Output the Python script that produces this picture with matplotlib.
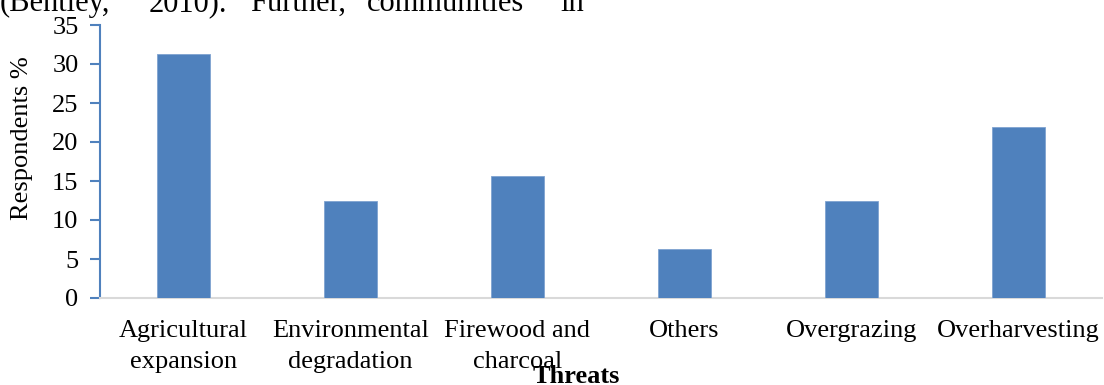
import numpy as np
import matplotlib
matplotlib.use('Agg')
import matplotlib.pyplot as plt

# threat categories and share of respondents (%)
threats = ['Agricultural\nexpansion', 'Environmental\ndegradation', 'Firewood and\ncharcoal',
           'Others', 'Overgrazing', 'Overharvesting']
respondents = [31.25, 12.5, 15.625, 6.25, 12.5, 21.875]
yticks = [0, 5, 10, 15, 20, 25, 30, 35]

# words of the running text line above the figure
words = ['(Bentley,', '2010).', 'Further,', 'communities', 'in']
word_x = [0, 149, 250, 367, 560]

plt.rcParams['font.family'] = ['Liberation Serif', 'DejaVu Serif']
plt.rcParams['font.size'] = 19

W, H = 1104, 385
fig = plt.figure(figsize=(W / 100, H / 100), dpi=100)
ax = fig.add_axes([100 / W, 1 - 298 / H, 1002 / W, 273 / H])

blue = '#4F81BD'
x = np.arange(len(threats))
ax.bar(x, respondents, width=0.32, color=blue, edgecolor='#7FA3D0', linewidth=0.6, zorder=3)

ax.set_xlim(-0.5, len(threats) - 0.5)
ax.set_ylim(0, 35)
ax.set_yticks(yticks)
ax.set_xticks(x)
ax.set_xticklabels(threats, linespacing=1.5)

for s in ['top', 'right']:
    ax.spines[s].set_visible(False)
ax.spines['left'].set_color(blue)
ax.spines['left'].set_linewidth(1.5)
ax.spines['bottom'].set_color('#D9D9D9')
ax.spines['bottom'].set_linewidth(1.5)

ax.tick_params(axis='y', direction='out', length=7, width=1.5, color=blue, pad=8.5)
ax.tick_params(axis='x', length=0, pad=16)

fig.text(22 / W, 1 - 138 / H, 'Respondents %', rotation=90, ha='center', va='center')
fig.text(576 / W, 1 - 383 / H, 'Threats', ha='center', va='baseline', fontweight='bold')

for w, wx in zip(words, word_x):
    fig.text(wx / W, 1 - 11 / H, w, ha='left', va='baseline', fontsize=22)

fig.savefig('out.png', dpi=100)
